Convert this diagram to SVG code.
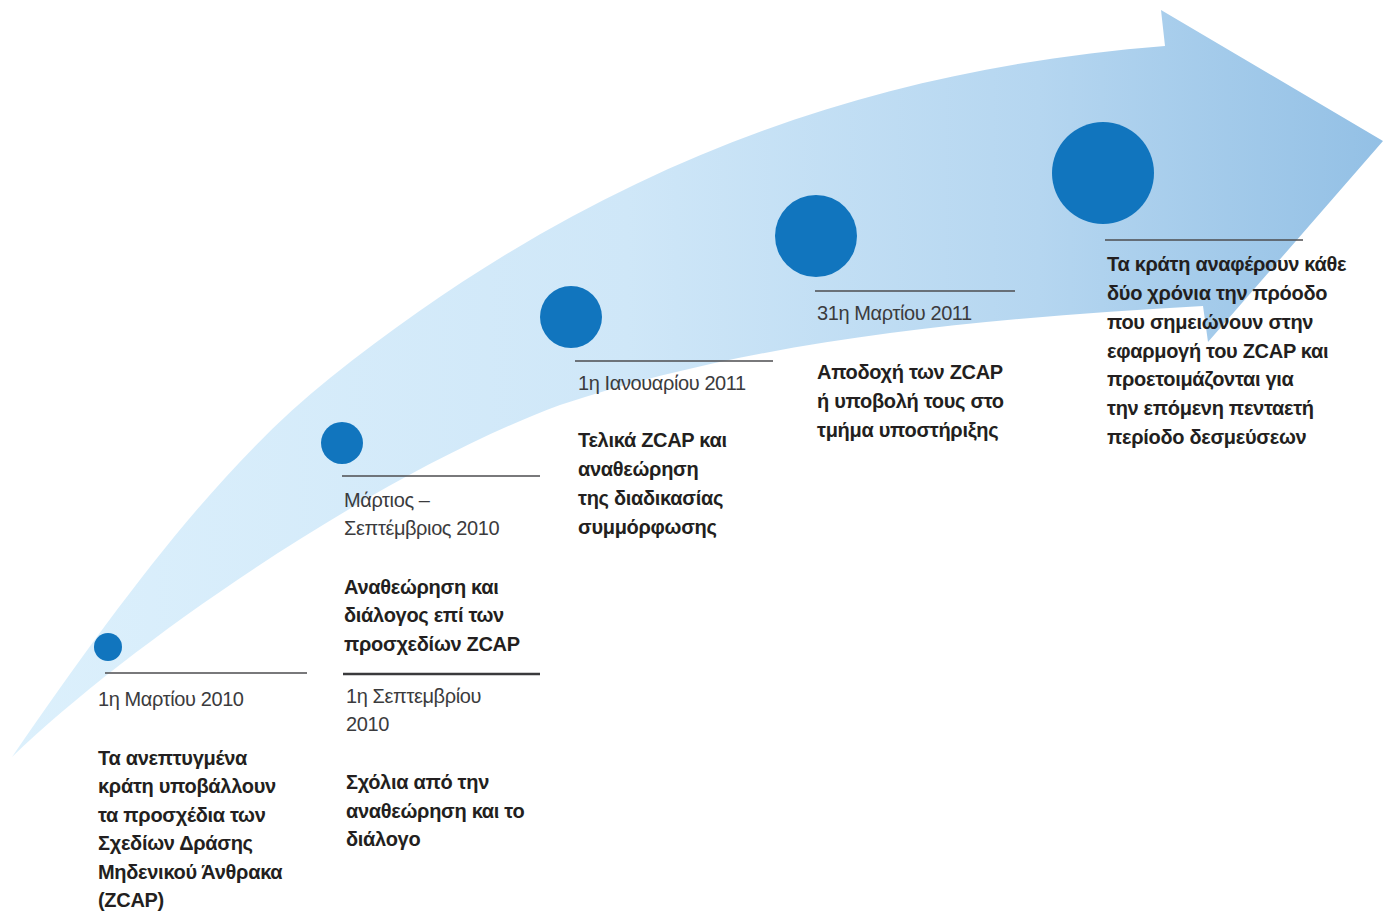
<svg xmlns="http://www.w3.org/2000/svg" width="1391" height="913" viewBox="0 0 1391 913">
  <defs>
    <linearGradient id="bandGrad" gradientUnits="userSpaceOnUse" x1="10" y1="0" x2="1383" y2="0">
      <stop offset="0" stop-color="#dcf0fc"/>
      <stop offset="0.45" stop-color="#cfe7f8"/>
      <stop offset="0.75" stop-color="#b5d6f0"/>
      <stop offset="1" stop-color="#93c0e5"/>
    </linearGradient>
    <style>
      .dot { fill: #1175be; }
      .rule { stroke: #4d4d4f; stroke-width: 1.5; fill: none; }
      .rule-thick { stroke: #3a3a3c; stroke-width: 2.5; fill: none; }
      .date { font-family: "Liberation Sans", Arial, sans-serif; font-size: 20px; letter-spacing: -0.4px; fill: #3b3b3d; }
      .desc { font-family: "Liberation Sans", Arial, sans-serif; font-size: 20px; letter-spacing: -0.3px; font-weight: bold; fill: #231f20; }
    </style>
  </defs>

  <g id="arrow">
    <path fill="url(#bandGrad)" d="M12,757 C122,597.5 220,466 330,378 C610,154 885,68 1165,46 L1161,10 L1383,141 L1208,342 L1203,306 C993,318 770,336 560,405 C380,471.6 132,641 12,757 Z"/>
  </g>

  <g id="connectors">
    <line class="rule" x1="105" y1="673" x2="307" y2="673"/>
    <line class="rule" x1="342" y1="476" x2="540" y2="476"/>
    <line class="rule-thick" x1="343" y1="674" x2="540" y2="674"/>
    <line class="rule" x1="575" y1="361" x2="773" y2="361"/>
    <line class="rule" x1="815" y1="291" x2="1015" y2="291"/>
    <line class="rule" x1="1105" y1="240" x2="1303" y2="240"/>
  </g>

  <g id="milestone1">
    <circle class="dot" cx="108" cy="647" r="14"/>
    <text class="date" x="98" y="706">1η Μαρτίου 2010</text>
    <text class="desc" x="98" y="765">Τα ανεπτυγμένα</text>
    <text class="desc" x="98" y="793">κράτη υποβάλλουν</text>
    <text class="desc" x="98" y="822">τα προσχέδια των</text>
    <text class="desc" x="98" y="850">Σχεδίων Δράσης</text>
    <text class="desc" x="98" y="879">Μηδενικού Άνθρακα</text>
    <text class="desc" x="98" y="907">(ZCAP)</text>
  </g>

  <g id="milestone2">
    <circle class="dot" cx="342" cy="443" r="21"/>
    <text class="date" x="344" y="507">Μάρτιος –</text>
    <text class="date" x="344" y="535">Σεπτέμβριος 2010</text>
    <text class="desc" x="344" y="594">Αναθεώρηση και</text>
    <text class="desc" x="344" y="622">διάλογος επί των</text>
    <text class="desc" x="344" y="651">προσχεδίων ZCAP</text>
  </g>

  <g id="milestone2b">
    <text class="date" x="346" y="703">1η Σεπτεμβρίου</text>
    <text class="date" x="346" y="731">2010</text>
    <text class="desc" x="346" y="789">Σχόλια από την</text>
    <text class="desc" x="346" y="818">αναθεώρηση και το</text>
    <text class="desc" x="346" y="846">διάλογο</text>
  </g>

  <g id="milestone3">
    <circle class="dot" cx="571" cy="317" r="31"/>
    <text class="date" x="578" y="390">1η Ιανουαρίου 2011</text>
    <text class="desc" x="578" y="447">Τελικά ZCAP και</text>
    <text class="desc" x="578" y="476">αναθεώρηση</text>
    <text class="desc" x="578" y="505">της διαδικασίας</text>
    <text class="desc" x="578" y="534">συμμόρφωσης</text>
  </g>

  <g id="milestone4">
    <circle class="dot" cx="816" cy="236" r="41"/>
    <text class="date" x="817" y="320">31η Μαρτίου 2011</text>
    <text class="desc" x="817" y="379">Αποδοχή των ZCAP</text>
    <text class="desc" x="817" y="408">ή υποβολή τους στο</text>
    <text class="desc" x="817" y="437">τμήμα υποστήριξης</text>
  </g>

  <g id="milestone5">
    <circle class="dot" cx="1103" cy="173" r="51"/>
    <text class="desc" x="1107" y="271">Τα κράτη αναφέρουν κάθε</text>
    <text class="desc" x="1107" y="300">δύο χρόνια την πρόοδο</text>
    <text class="desc" x="1107" y="329">που σημειώνουν στην</text>
    <text class="desc" x="1107" y="358">εφαρμογή του ZCAP και</text>
    <text class="desc" x="1107" y="386">προετοιμάζονται για</text>
    <text class="desc" x="1107" y="415">την επόμενη πενταετή</text>
    <text class="desc" x="1107" y="444">περίοδο δεσμεύσεων</text>
  </g>
</svg>
